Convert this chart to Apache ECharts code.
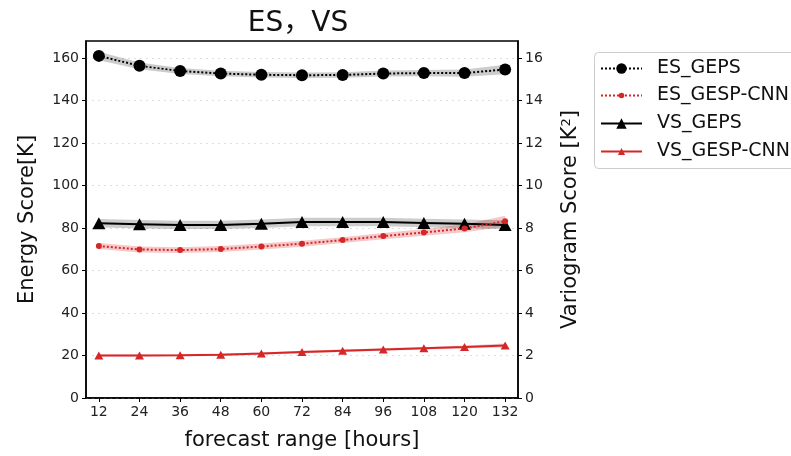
<!DOCTYPE html>
<html>
<head>
<meta charset="utf-8">
<script src="https://cdn.jsdelivr.net/npm/echarts@6/dist/echarts.min.js"></script>
<style>
  html, body { margin: 0; padding: 0; background: #fff; }
  #chart { width: 791px; height: 456px; }
</style>
</head>
<body>
<div id="chart"></div>
<script>
const hours = [12, 24, 36, 48, 60, 72, 84, 96, 108, 120, 132];
const esTicks = [0, 20, 40, 60, 80, 100, 120, 140, 160];
const vsTicks = [0, 2, 4, 6, 8, 10, 12, 14, 16];

// Energy Score [K]
const esGeps = [161.0, 156.3, 153.9, 152.7, 152.1, 151.9, 152.0, 152.7, 152.9, 152.9, 154.6];
const esGepsLo = [159.0, 154.7, 152.5, 151.4, 150.8, 150.6, 150.7, 151.3, 151.4, 151.2, 152.4];
const esGepsHi = [163.0, 157.9, 155.3, 154.0, 153.4, 153.2, 153.3, 154.1, 154.4, 154.6, 156.8];

const esCnn = [71.5, 69.9, 69.6, 70.1, 71.3, 72.6, 74.3, 76.2, 77.9, 79.8, 83.2];
const esCnnLo = [70.1, 68.5, 68.2, 68.7, 69.9, 71.2, 72.9, 74.7, 76.3, 78.0, 80.6];
const esCnnHi = [72.9, 71.3, 71.0, 71.5, 72.7, 74.0, 75.7, 77.7, 79.5, 81.6, 85.8];

// Variogram Score [K^2]
const vsGeps = [8.22, 8.18, 8.14, 8.14, 8.2, 8.28, 8.28, 8.28, 8.24, 8.2, 8.14];
const vsGepsLo = [8.02, 7.98, 7.95, 7.95, 8.0, 8.08, 8.08, 8.08, 8.04, 8.0, 7.94];
const vsGepsHi = [8.42, 8.38, 8.34, 8.34, 8.4, 8.48, 8.48, 8.48, 8.44, 8.4, 8.36];

const vsCnn = [2.0, 2.0, 2.01, 2.04, 2.09, 2.16, 2.22, 2.28, 2.34, 2.4, 2.47];
const vsCnnLo = [1.95, 1.95, 1.96, 1.98, 2.03, 2.1, 2.16, 2.22, 2.28, 2.33, 2.38];
const vsCnnHi = [2.05, 2.05, 2.06, 2.09, 2.14, 2.22, 2.28, 2.34, 2.4, 2.47, 2.56];

const RED = "#d62728";
const FONT = "DejaVu Sans, Noto Sans CJK JP";

const pairs = (ys) => hours.map((h, i) => [h, ys[i]]);

// 帯（ばらつき幅）: 上限→下限の多角形を1つ描く
function band(lo, hi, axis, color) {
  return {
    type: "custom",
    yAxisIndex: axis,
    silent: true,
    z: 1,
    data: hours.map((h, i) => [h, lo[i], hi[i]]),
    encode: { x: 0, y: [1, 2] },
    renderItem: (params, api) => {
      if (params.dataIndex !== 0) return;
      const top = hours.map((h, i) => api.coord([h, hi[i]]));
      const bot = hours.map((h, i) => api.coord([h, lo[i]])).reverse();
      return {
        type: "polygon",
        shape: { points: top.concat(bot) },
        style: { fill: color },
      };
    },
  };
}

const axisFont = { fontFamily: FONT, fontSize: 14, color: "#222", margin: 7 };
const nameFont = { fontFamily: FONT, fontSize: 21, color: "#111" };

function legendRow(name, cy, h) {
  return {
    data: [name],
    left: 600,
    top: cy - 8,
    itemWidth: 41,
    itemHeight: h,
    padding: 0,
    textStyle: { fontFamily: FONT, fontSize: 19, color: "#111", padding: [0, 0, 0, 10] },
  };
}

const chart = echarts.init(document.getElementById("chart"));

const option = {
  animation: false,
  textStyle: { fontFamily: FONT },
  title: {
    text: "ES，VS",
    left: 293,
    textAlign: "center",
    top: 5,
    textStyle: { fontFamily: FONT, fontSize: 28, fontWeight: "normal", color: "#111" },
  },
  graphic: [
    {
      type: "rect",
      shape: { x: 594.5, y: 52.5, width: 210, height: 116, r: 4 },
      style: { fill: "#fff", stroke: "#ccc", lineWidth: 1 },
      z: -1,
    },
  ],
  legend: [
    legendRow("ES_GEPS", 67, 13),
    legendRow("ES_GESP-CNN", 94, 7),
    legendRow("VS_GEPS", 122, 13),
    legendRow("VS_GESP-CNN", 150, 9),
  ],
  grid: {
    left: 86,
    right: 273,
    top: 41,
    bottom: 58,
    show: true,
    borderColor: "#000",
    borderWidth: 1.5,
  },
  xAxis: {
    type: "value",
    min: 8.2,
    max: 135.8,
    name: "forecast range [hours]",
    nameLocation: "middle",
    nameGap: 32,
    nameTextStyle: nameFont,
    axisLine: { show: true, lineStyle: { color: "#000", width: 1.5 } },
    axisTick: { show: true, length: 4, customValues: hours, lineStyle: { color: "#000" } },
    axisLabel: { customValues: hours, ...axisFont },
    splitLine: { show: false },
  },
  yAxis: [
    {
      type: "value",
      min: 0,
      max: 168,
      name: "Energy Score[K]",
      nameLocation: "middle",
      nameGap: 48,
      nameTextStyle: nameFont,
      axisLine: { show: true, lineStyle: { color: "#000", width: 1.5 } },
      axisTick: { show: true, length: 4, customValues: esTicks, lineStyle: { color: "#000" } },
      axisLabel: { customValues: esTicks, ...axisFont },
      splitLine: {
        show: true,
        customValues: esTicks,
        lineStyle: { color: "#ddd", type: [2, 4], width: 1 },
      },
    },
    {
      type: "value",
      min: 0,
      max: 16.8,
      position: "right",
      name: "Variogram Score [K{sup|2}]",
      nameLocation: "middle",
      nameGap: 42,
      nameTextStyle: {
        ...nameFont,
        rich: { sup: { fontSize: 13, verticalAlign: "top", padding: [0, 0, 9, 0], fontFamily: FONT, color: "#111" } },
      },
      axisLine: { show: true, lineStyle: { color: "#000", width: 1.5 } },
      axisTick: { show: true, length: 4, customValues: vsTicks, lineStyle: { color: "#000" } },
      axisLabel: { customValues: vsTicks, ...axisFont },
      splitLine: { show: false },
    },
  ],
  series: [
    band(esGepsLo, esGepsHi, 0, "rgba(0,0,0,0.2)"),
    band(esCnnLo, esCnnHi, 0, "rgba(214,39,40,0.25)"),
    band(vsGepsLo, vsGepsHi, 1, "rgba(0,0,0,0.2)"),
    band(vsCnnLo, vsCnnHi, 1, "rgba(214,39,40,0.25)"),
    {
      name: "ES_GEPS",
      type: "line",
      yAxisIndex: 0,
      data: pairs(esGeps),
      symbol: "circle",
      symbolSize: 12,
      itemStyle: { color: "#000" },
      lineStyle: { color: "#000", width: 2, type: "dotted" },
      z: 3,
    },
    {
      name: "VS_GEPS",
      type: "line",
      yAxisIndex: 1,
      data: pairs(vsGeps),
      symbol: "triangle",
      symbolSize: [13, 12],
      itemStyle: { color: "#000" },
      lineStyle: { color: "#000", width: 2 },
      z: 3,
    },
    {
      name: "ES_GESP-CNN",
      type: "line",
      yAxisIndex: 0,
      data: pairs(esCnn),
      symbol: "circle",
      symbolSize: 6,
      itemStyle: { color: RED },
      lineStyle: { color: RED, width: 2, type: "dotted" },
      z: 4,
    },
    {
      name: "VS_GESP-CNN",
      type: "line",
      yAxisIndex: 1,
      data: pairs(vsCnn),
      symbol: "triangle",
      symbolSize: [9, 8],
      itemStyle: { color: RED },
      lineStyle: { color: RED, width: 2 },
      z: 4,
    },
  ],
};

chart.setOption(option);
</script>
</body>
</html>
